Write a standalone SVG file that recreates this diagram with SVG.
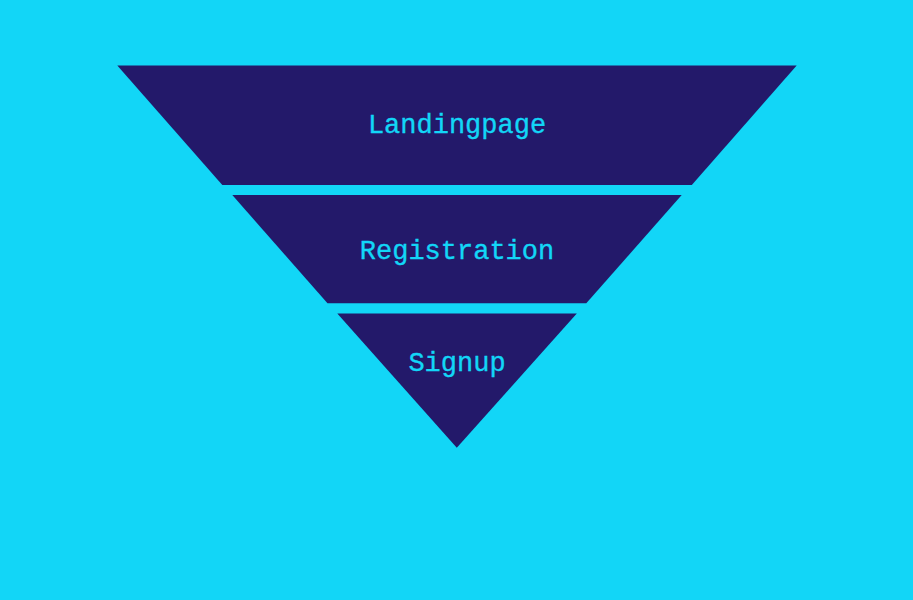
<svg xmlns="http://www.w3.org/2000/svg" width="913" height="600" viewBox="0 0 913 600">
<style>
.stage{fill:#23196a}
.lbl{fill:#12d6f7;font-family:"Liberation Mono","DejaVu Sans Mono",monospace;font-size:27px;text-anchor:middle;stroke:#12d6f7;stroke-width:0.35}
</style>
<rect width="913" height="600" fill="#12d6f7"/>
<g id="landingpage">
<polygon class="stage" points="117.3,65.5 796.7,65.5 691.8,185 222.3,185"/>
<text class="lbl" x="457" y="133">Landingpage</text>
</g>
<g id="registration">
<polygon class="stage" points="232.3,195 681.7,195 586.3,303.3 327.5,303.3"/>
<text class="lbl" x="457" y="259">Registration</text>
</g>
<g id="signup">
<polygon class="stage" points="337.3,313.5 576.8,313.5 456.8,447.8"/>
<text class="lbl" x="457" y="371">Signup</text>
</g>
<g id="connectors"/>
</svg>
